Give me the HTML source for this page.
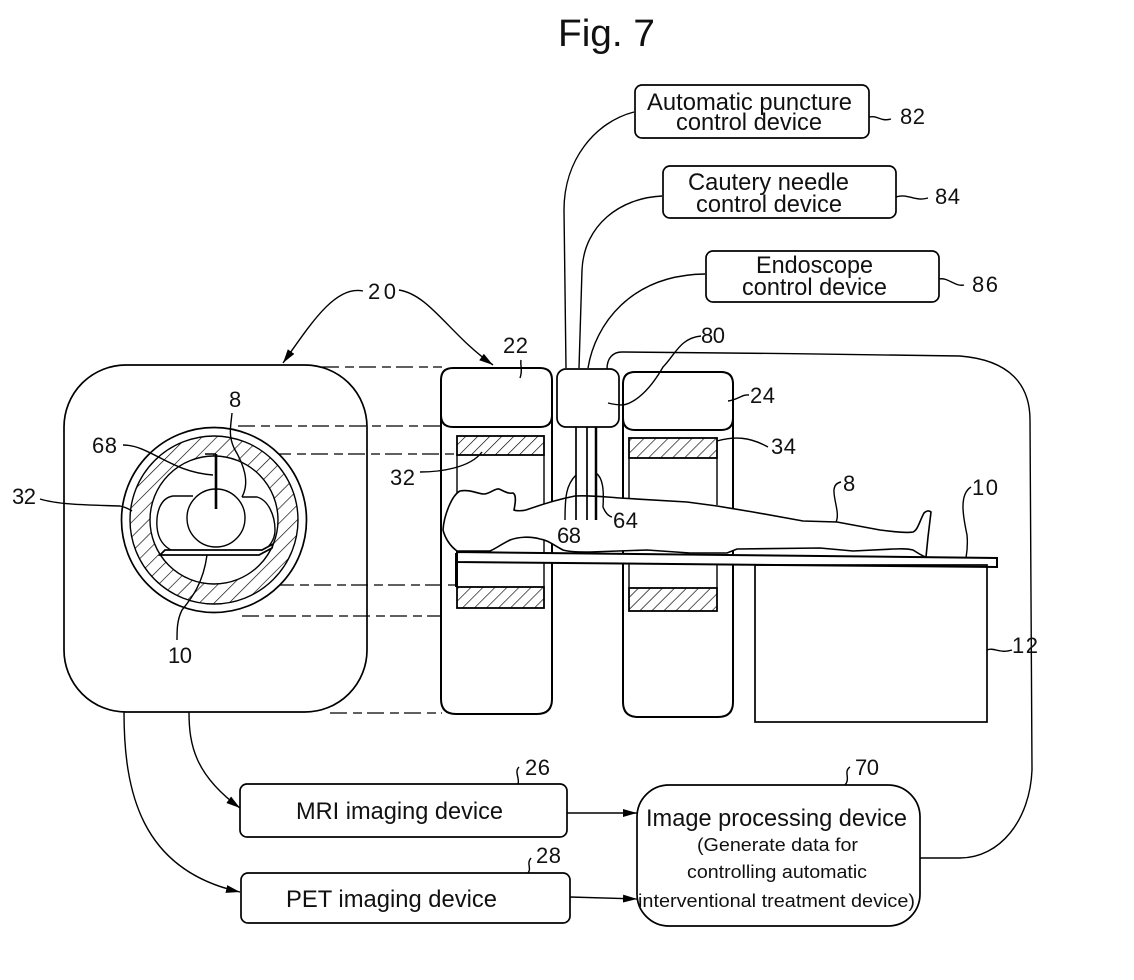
<!DOCTYPE html>
<html>
<head>
<meta charset="utf-8">
<style>
html,body{margin:0;padding:0;background:#fff;width:1134px;height:980px;overflow:hidden}
svg{display:block}
text{font-family:"Liberation Sans",sans-serif;fill:#111}
.l{font-size:24px}
.s{font-size:18px}
.n{font-size:22px}
.k{fill:none;stroke:#000;stroke-width:1.4}
.t{fill:none;stroke:#000;stroke-width:2}
.w{fill:#fff;stroke:#000;stroke-width:1.7}
.d{fill:none;stroke:#000;stroke-width:1.3;stroke-dasharray:17 6 9 5}
</style>
</head>
<body>
<svg width="1134" height="980" viewBox="0 0 1134 980" xmlns="http://www.w3.org/2000/svg">
<defs>
<pattern id="h" width="8.5" height="8.5" patternUnits="userSpaceOnUse" patternTransform="rotate(45)">
<line x1="0" y1="0" x2="0" y2="8.5" stroke="#000" stroke-width="1.3"/>
</pattern>
<pattern id="r" width="10.5" height="10.5" patternUnits="userSpaceOnUse" patternTransform="rotate(45)">
<line x1="0" y1="0" x2="0" y2="10.5" stroke="#000" stroke-width="1.3"/>
</pattern>
<marker id="a" markerWidth="15" markerHeight="10" refX="14" refY="5" orient="auto" markerUnits="userSpaceOnUse">
<path d="M0,1 L14,5 L0,9 Z" fill="#000"/>
</marker>
</defs>

<text x="558" y="46" font-size="38" textLength="97" lengthAdjust="spacingAndGlyphs">Fig. 7</text>

<!-- dashed projection lines -->
<path class="d" d="M322,367H442 M238,426H442 M274,454H457 M277,585H457 M242,616H442 M330,713H442"/>

<!-- left cross-section -->
<rect class="w" x="64" y="365" width="303" height="347" rx="62" ry="62" style="fill:none"/>
<circle cx="214" cy="520" r="92.5" class="w"/>
<path d="M214,436a84,84 0 1,0 0.01,0Z M214,456a64,64 0 1,1 -0.01,0Z" fill="url(#r)" fill-rule="evenodd"/>
<circle cx="214" cy="520" r="84" class="k"/>
<circle cx="214" cy="520" r="64" class="k"/>
<path class="k" d="M193,496H173C160,498 156,513 157,527C158,539 164,547 173,551"/>
<path class="k" d="M242,497H257C268,500 275,515 275,530C275,537 272,543 267,548"/>
<circle cx="216" cy="518" r="29" class="k"/>
<path d="M165,550H262L273,544L272,548L259,555H160Z" fill="#fff" stroke="#000" stroke-width="1.7"/>
<path d="M216,454V509" stroke="#000" stroke-width="2.6" fill="none"/>
<path d="M216,454H205" stroke="#000" stroke-width="1.5" fill="none"/>
<path class="k" d="M123,445C150,445 170,472 213,475"/>
<path class="k" d="M232,413C231,425 228,435 234,448C244,465 250,482 242,497"/>
<path class="k" d="M40,499C60,505 90,505 120,506C125,507 129,509 132,511"/>
<path class="k" d="M207,555C203,585 190,600 182,610C177,620 177,630 177,640"/>

<!-- left gantry 22 -->
<path class="t" d="M441,380Q441,368 453,368H540Q552,368 552,380V699Q552,714 537,714H456Q441,714 441,699Z"/>
<path class="t" d="M441,415Q441,427 453,427H540Q552,427 552,415"/>
<rect x="457" y="436" width="87" height="19" fill="url(#h)" stroke="#000" stroke-width="1.8"/>
<path class="k" d="M457,455V500 M544,455V552"/>
<path class="k" d="M457,562V587 M544,562V587"/>
<rect x="457" y="587" width="87" height="21" fill="url(#h)" stroke="#000" stroke-width="1.8"/>

<!-- right gantry 24 -->
<path class="t" d="M623,384Q623,372 635,372H721Q733,372 733,384V702Q733,717 718,717H638Q623,717 623,702Z"/>
<path class="t" d="M623,418Q623,430 635,430H721Q733,430 733,418"/>
<rect x="629" y="438" width="88" height="20" fill="url(#h)" stroke="#000" stroke-width="1.8"/>
<path class="k" d="M629,458V500 M717,458V505"/>
<path class="k" d="M629,563V588 M717,563V588"/>
<rect x="629" y="588" width="88" height="23" fill="url(#h)" stroke="#000" stroke-width="1.8"/>

<!-- center box 80 -->
<rect class="w" x="557" y="369" width="62" height="58" rx="9" ry="9"/>

<!-- patient -->
<path fill="#fff" stroke="#000" stroke-width="1.6" d="M457,551C450,546 445,538 443,530C444,515 452,495 460,491C470,489 478,494 484,494C490,494 495,488 499,489C504,491 508,494 513,493C517,495 515,505 514,510C516,511 522,511 526,510C540,505 555,500 575,496C590,495 605,497 620,498L687,502L717,506L753,512L803,521L837,522L880,530C895,532 908,533 913,532C918,530 920,520 924,513C926,511 929,510 931,512L928,537L926,557C922,556 918,553 913,550C905,548 900,549 893,549L853,551L820,548L737,549L727,553L690,553L647,550L590,552C580,552 570,552 563,550C555,546 548,540 540,539C530,536 518,537 510,540C500,545 495,549 490,551Z"/>

<!-- table -->
<path fill="#fff" stroke="#000" stroke-width="2" d="M457,552L997,558V567L457,562Z"/>
<rect x="455" y="553" width="3" height="34" fill="#000"/>
<rect x="755" y="565" width="232" height="157" fill="none" stroke="#000" stroke-width="1.7"/>

<!-- probes -->
<path d="M576,427V520" stroke="#000" stroke-width="1.7" fill="none"/>
<path d="M587,427V520" stroke="#000" stroke-width="1.7" fill="none"/>
<path d="M596,427V520" stroke="#000" stroke-width="2.5" fill="none"/>

<!-- top control boxes -->
<rect class="w" x="635" y="85" width="234" height="53" rx="7"/>
<rect class="w" x="663" y="166" width="233" height="52" rx="7"/>
<rect class="w" x="706" y="251" width="233" height="51" rx="7"/>
<path class="k" d="M566,368L564,210C564,160 595,122 634,112"/>
<path class="k" d="M579,368L582,270C584,225 620,198 662,196"/>
<path class="k" d="M588,368C595,325 630,275 705,274"/>
<path class="k" d="M607,369C607,358 613,352 622,352C720,353 860,354 960,356C1010,360 1030,385 1030,420L1032,770C1030,820 1000,858 960,858H920"/>

<!-- bottom boxes -->
<rect class="w" x="240" y="784" width="327" height="53" rx="7"/>
<rect class="w" x="241" y="873" width="329" height="50" rx="7"/>
<rect class="w" x="637" y="785" width="283" height="141" rx="32"/>
<path class="k" marker-end="url(#a)" d="M189,712C189,745 195,775 240,808"/>
<path class="k" marker-end="url(#a)" d="M124,712C124,790 140,870 240,892"/>
<path class="k" marker-end="url(#a)" d="M567,813H637"/>
<path class="k" marker-end="url(#a)" d="M570,897L637,899"/>

<!-- 20 arrows -->
<path class="k" marker-end="url(#a)" d="M363,291C335,285 310,325 283,363"/>
<path class="k" marker-end="url(#a)" d="M399,290C430,295 450,335 493,365"/>

<!-- leaders -->
<path class="k" d="M521,360C520,366 523,370 520,378"/>
<path class="k" d="M749,395C742,394 738,400 728,401"/>
<path class="k" d="M717,441C735,436 750,437 768,447"/>
<path class="k" d="M420,472C440,472 470,468 482,452"/>
<path class="k" d="M701,336C680,338 675,355 663,367C650,390 635,403 623,405C618,405 612,404 608,403"/>
<path class="k" d="M576,475C566,485 565,497 565,520"/>
<path class="k" d="M596,473C603,478 604,490 603,507C605,512 608,516 612,517"/>
<path class="k" d="M841,482C825,485 842,510 836,522"/>
<path class="k" d="M971,487C958,495 964,520 967,535C968,545 967,552 966,558"/>
<path class="k" d="M987,650C994,647 1000,654 1012,650"/>
<path class="k" d="M869,117C878,115 880,122 891,119"/>
<path class="k" d="M896,197C908,193 915,202 928,198"/>
<path class="k" d="M939,279C948,277 955,287 964,285"/>
<path class="k" d="M519,767C514,772 520,778 518,784"/>
<path class="k" d="M531,858C526,864 532,868 528,873"/>
<path class="k" d="M850,767C843,772 851,778 845,785"/>

<!-- box text -->
<text class="l" x="647" y="110" textLength="205" lengthAdjust="spacingAndGlyphs">Automatic puncture</text>
<text class="l" x="676" y="130" textLength="146" lengthAdjust="spacingAndGlyphs">control device</text>
<text class="l" x="688" y="190" textLength="161" lengthAdjust="spacingAndGlyphs">Cautery needle</text>
<text class="l" x="696" y="212" textLength="146" lengthAdjust="spacingAndGlyphs">control device</text>
<text class="l" x="756" y="273" textLength="117" lengthAdjust="spacingAndGlyphs">Endoscope</text>
<text class="l" x="742" y="295" textLength="145" lengthAdjust="spacingAndGlyphs">control device</text>
<text class="l" x="296" y="819" textLength="207" lengthAdjust="spacingAndGlyphs">MRI imaging device</text>
<text class="l" x="286" y="907" textLength="211" lengthAdjust="spacingAndGlyphs">PET imaging device</text>
<text class="l" x="646" y="826" textLength="261" lengthAdjust="spacingAndGlyphs">Image processing device</text>
<text class="s" x="697" y="851" textLength="161" lengthAdjust="spacingAndGlyphs">(Generate data for</text>
<text class="s" x="687" y="878" textLength="180" lengthAdjust="spacingAndGlyphs">controlling automatic</text>
<text class="s" x="638" y="907" textLength="277" lengthAdjust="spacingAndGlyphs">interventional treatment device)</text>

<!-- reference numbers -->
<text class="n" x="368" y="299" textLength="28">20</text>
<text class="n" x="503" y="353" textLength="25">22</text>
<text class="n" x="750" y="403" textLength="25">24</text>
<text class="n" x="771" y="454" textLength="25">34</text>
<text class="n" x="390" y="485" textLength="25">32</text>
<text class="n" x="613" y="528" textLength="25">64</text>
<text class="n" x="557" y="543" textLength="24">68</text>
<text class="n" x="843" y="491">8</text>
<text class="n" x="972" y="495" textLength="26">10</text>
<text class="n" x="1012" y="653" textLength="26">12</text>
<text class="n" x="525" y="775" textLength="25">26</text>
<text class="n" x="536" y="863" textLength="25">28</text>
<text class="n" x="855" y="775" textLength="24">70</text>
<text class="n" x="701" y="343" textLength="24">80</text>
<text class="n" x="900" y="124" textLength="25">82</text>
<text class="n" x="935" y="204" textLength="25">84</text>
<text class="n" x="972" y="292" textLength="26">86</text>
<text class="n" x="229" y="407">8</text>
<text class="n" x="92" y="453" textLength="25">68</text>
<text class="n" x="12" y="504" textLength="24">32</text>
<text class="n" x="168" y="663" textLength="24">10</text>
</svg>
</body>
</html>
